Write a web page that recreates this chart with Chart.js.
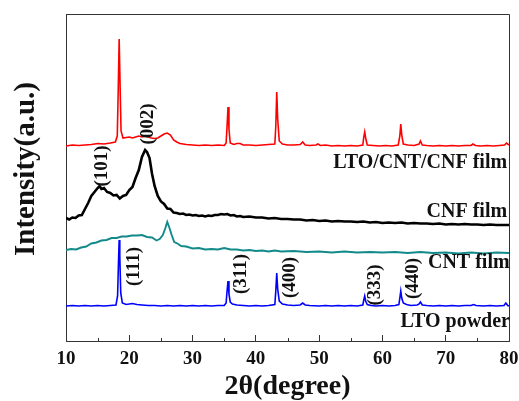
<!DOCTYPE html>
<html>
<head>
<meta charset="utf-8">
<script src="https://cdn.jsdelivr.net/npm/chart.js@4.4.1/dist/chart.umd.min.js"></script>
<style>
html,body{margin:0;padding:0;background:#fff;}
#wrap{width:519px;height:401px;position:relative;}
</style>
</head>
<body>
<div id="wrap"><canvas id="c" width="519" height="401"></canvas></div>
<script>
// ---- Data (2θ in degrees, intensity in arbitrary units with stacking offset) ----
const xTicks = [10, 20, 30, 40, 50, 60, 70, 80];
const minorTicks = [15, 25, 35, 45, 55, 65, 75];

const filmX = [10,11,12,13,14,15,16,17,17.8,18.1,18.25,18.4,18.55,18.7,19,19.5,20,20.5,21,21.5,22,22.5,23,23.5,24,24.5,25,25.5,26,26.5,27,27.5,28,29,30,31,32,33,34,35,35.3,35.45,35.6,35.75,35.95,36.5,37,37.5,38,39,40,41,42,43,43.15,43.3,43.45,43.7,44.2,45,46,47,47.4,47.8,48.5,49.5,49.8,50.2,51,52,53,54,55,56,56.9,57.05,57.2,57.35,57.6,58.5,59.5,60.5,61.5,62.5,62.75,62.9,63.05,63.3,64,65,65.8,66,66.3,67,68,69,70,71,72,73,74,74.3,74.7,75.5,76.5,77.5,78.5,79.3,79.6,80];
const filmY = [195,196,195.5,196,196.5,197.5,197,198,199,205,250,302,255,210,203,203.5,204,203,204,205,204,205,204,203,202.5,203,205,207,208,206,201,199,197.5,196.5,196,195.5,196,195.5,196,195.5,198,215,234,212,198,196.5,197.5,197.5,196,196,195.5,196,196.5,197,215,249,222,200,197,196,196,196.5,199,196,195.5,196,197,195.5,196,195,195.5,195,195.5,195,196,204,209,203,196,195.5,195,195.5,195,196,205,217,206,197,196,195.5,197,200,196,195.5,195,195.5,195,195.5,195,195.5,195.5,197,195.5,195,195.5,195,195.5,196,198,196];

const cnfX = [10,10.5,11,11.5,12,12.5,13,13.5,14,14.5,15,15.3,15.6,16,16.5,17,17.5,18,18.5,19,19.5,20,20.5,21,21.5,22,22.5,22.8,23.2,23.6,24,24.5,25,25.5,26,26.5,27,27.5,28,28.5,29,29.5,30,30.5,31,31.5,32,32.5,33,33.5,34,34.5,35,35.5,36,36.5,37,37.5,38,39,40,41,42,43,44,45,46,47,48,49,50,51,52,53,54,55,56,57,58,59,60,61,62,63,64,65,66,67,68,69,70,71,72,73,74,75,76,77,78,79,80];
const cnfY = [123,121.5,123.5,123,125.5,126,132,138,145,149,153,155,152,153,149,148,145.5,146,142.5,145,146,151,154,163,171,184,191,189,183,167,155,145,139.5,137,132.5,132,128.5,128,127,127.5,126,126.5,125.5,126,125,125.5,124.5,125.5,125,126,126,127,126.5,127,125.5,126,124.5,125,124,124.5,123.5,123.5,122.5,123,122,122,121.5,121.5,120.5,121,120,120.5,119.5,120,119.5,119.5,119,119.5,118.5,119,118,118.5,118,118.5,117.5,118,117.5,117.5,117,117.5,116.5,117,116.5,117,116.5,116.5,116,116.5,116,116,116];

const cntX = [10,10.8,11.6,12.4,13.2,14,14.8,15.6,16.4,17.2,18,18.8,19.6,20.4,21.2,22,22.8,23.6,24.3,24.8,25.3,25.7,26,26.3,26.7,27.1,27.6,28.2,29,30,31,32,33,34,35,36,37,38,39,40,41,42,43,44,46,48,50,52,54,56,58,60,62,64,66,68,70,72,74,76,78,80];
const cntY = [91,92,91.5,93.5,94.5,97.5,98.5,100.5,101,103,103,104.5,104.5,105.5,105.5,106,104,103.5,100.5,102,106,113,119,114,106,99,97.5,95,94.5,92.5,93,91.5,92,91.5,93,91.5,91.5,90.5,91,90,90.5,89.5,90.5,89.5,90,89,89.5,88.5,89.5,88.5,89,88.5,89,88,89,88,88.5,87.5,88.5,87.5,88.5,88];

const powderX = [10,11,12,13,14,15,16,17,17.9,18.15,18.3,18.4,18.5,18.65,18.9,19.5,20.5,21.2,22,23,24,25,26,27,28,29,30,31,32,33,34,35,35.3,35.45,35.6,35.75,35.95,36.3,37,38,39,40,41,42,43,43.15,43.3,43.45,43.7,44.2,45,46,47,47.4,47.8,48.5,50,51,52,53,54,55,56,56.9,57.05,57.2,57.35,57.6,58.2,59,60,61,62,62.6,62.75,62.9,63.05,63.3,63.8,64.5,65.5,65.8,66,66.3,67,68,69,70,71,72,73,74,74.4,74.8,76,77,78,79.2,79.5,79.8,80];
const powderY = [35,35.5,35,35.5,35,35.5,35,35.5,36,45,80,101,85,48,38,36.5,37.5,36.5,36,35.5,35.5,35,35.5,35,35.5,35,35.5,35,35.5,35,35.5,35.5,38,50,60,47,39,37,36,35.5,35,35.5,35,35.5,36.5,50,68,52,40,37,36,35.5,36,38,36,35.5,35,35.5,35,35.5,35,35.5,35,36,41,45,40,36.5,35.5,35,35.5,35,35.5,36.5,43,50,43,38,36.5,35.5,36,37,39,36,35.5,35,35.5,35,35.5,35,35.5,35.5,36.5,35.5,35,35.5,35,35.5,38,35.5,35];

const seriesNames = ['LTO/CNT/CNF film', 'CNF film', 'CNT film', 'LTO powder'];
const peakLabels = ['(101)', '(002)', '(111)', '(311)', '(400)', '(333)', '(440)'];

// ---- Annotation placement (data coordinates) ----
const seriesLabelPos = [
  {x: 79.7, y: 178}, {x: 79.7, y: 129}, {x: 80.1, y: 78}, {x: 80.15, y: 19}
];
const peakLabelPos = [
  {x: 15.7, y: 175}, {x: 22.9, y: 217}, {x: 20.8, y: 74.5}, {x: 37.6, y: 67},
  {x: 45.4, y: 63.5}, {x: 58.8, y: 56}, {x: 64.8, y: 62.5}
];

const zip = (xs, ys) => xs.map((x, i) => ({x, y: ys[i]}));
const FONT = '"Liberation Serif", "Times New Roman", serif';
const AX = '#333333';

const annotations = {
  id: 'annotations',
  afterDatasetsDraw(chart) {
    const {ctx, scales: {x, y}, chartArea: ca} = chart;
    ctx.save();
    // frame
    ctx.strokeStyle = AX; ctx.lineWidth = 1;
    ctx.beginPath();
    ctx.moveTo(ca.left, ca.top + 0.5); ctx.lineTo(ca.right + 0.5, ca.top + 0.5);
    ctx.lineTo(ca.right + 0.5, ca.bottom);
    ctx.stroke();
    // minor ticks
    minorTicks.forEach(v => {
      const px = Math.round(x.getPixelForValue(v)) + 0.5;
      ctx.beginPath(); ctx.moveTo(px, ca.bottom); ctx.lineTo(px, ca.bottom - 3); ctx.stroke();
    });
    ctx.fillStyle = '#111';
    ctx.font = 'bold 20px ' + FONT;
    ctx.textAlign = 'right'; ctx.textBaseline = 'middle';
    seriesNames.forEach((t, i) => {
      ctx.fillText(t, x.getPixelForValue(seriesLabelPos[i].x), y.getPixelForValue(seriesLabelPos[i].y));
    });
    ctx.font = 'bold 19px ' + FONT;
    ctx.textAlign = 'center';
    peakLabels.forEach((t, i) => {
      ctx.save();
      ctx.translate(x.getPixelForValue(peakLabelPos[i].x), y.getPixelForValue(peakLabelPos[i].y));
      ctx.rotate(-Math.PI / 2);
      ctx.fillText(t, 0, 0);
      ctx.restore();
    });
    // y axis title
    ctx.save();
    ctx.font = 'bold 29px ' + FONT;
    ctx.fillStyle = '#111';
    ctx.translate(27, 169);
    ctx.rotate(-Math.PI / 2);
    ctx.textAlign = 'center'; ctx.textBaseline = 'middle';
    ctx.fillText('Intensity(a.u.)', 0, 0);
    ctx.restore();
    ctx.restore();
  }
};

const ds = (label, data, color, w) => ({
  label, data, borderColor: color, backgroundColor: color,
  borderWidth: w, pointRadius: 0, tension: 0, fill: false
});

new Chart(document.getElementById('c'), {
  type: 'line',
  data: {
    datasets: [
      ds(seriesNames[0], zip(filmX, filmY), '#ff0000', 1.6),
      ds(seriesNames[1], zip(cnfX, cnfY), '#000000', 2.6),
      ds(seriesNames[2], zip(cntX, cntY), '#138a8a', 1.9),
      ds(seriesNames[3], zip(powderX, powderY), '#0000ff', 1.6)
    ]
  },
  options: {
    responsive: false,
    animation: false,
    devicePixelRatio: 1,
    layout: {padding: {top: 14, right: 10, left: 0, bottom: 0}},
    plugins: {legend: {display: false}, tooltip: {enabled: false}},
    scales: {
      x: {
        type: 'linear', min: 10, max: 80,
        afterFit: (s) => { s.height = 60; s.paddingLeft = 0; s.paddingRight = 0; },
        afterBuildTicks: (s) => { s.ticks = xTicks.map(v => ({value: v})); },
        ticks: {color: '#111', font: {family: FONT, size: 19, weight: 'bold'}, padding: 13, maxRotation: 0},
        grid: {display: true, drawOnChartArea: false, drawTicks: true, tickLength: -6, tickColor: AX, tickWidth: 1},
        border: {display: true, color: AX, width: 1},
        title: {display: true, text: '2θ(degree)', color: '#111', font: {family: FONT, size: 28, weight: 'bold', lineHeight: 1}, padding: {top: 0, bottom: 0}}
      },
      y: {
        type: 'linear', min: 0, max: 327,
        afterFit: (s) => { s.width = 66; s.paddingTop = 0; s.paddingBottom = 0; },
        ticks: {display: false},
        grid: {display: false},
        border: {display: true, color: AX, width: 1}
      }
    }
  },
  plugins: [annotations]
});
</script>
</body>
</html>
